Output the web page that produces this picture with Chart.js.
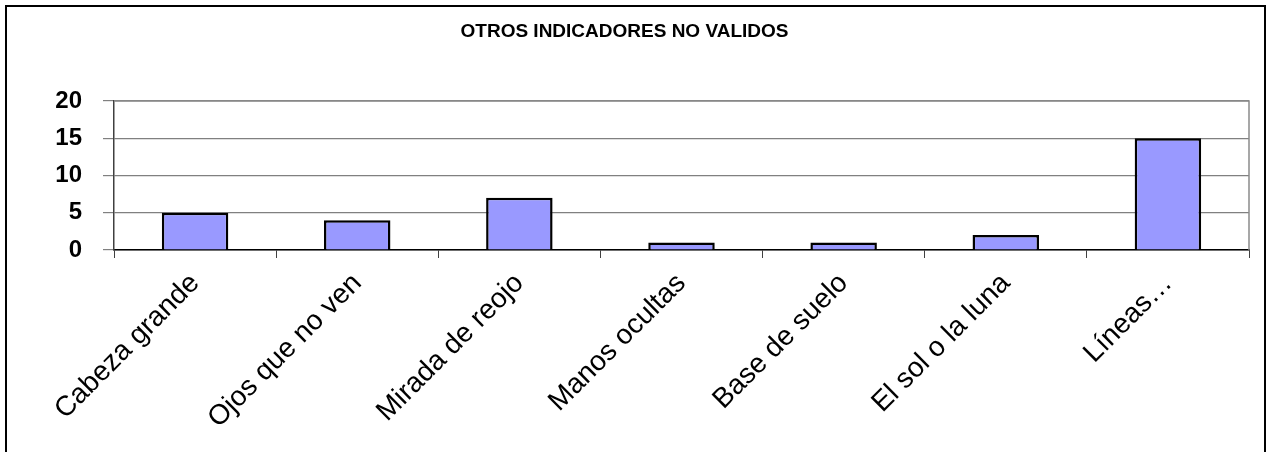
<!DOCTYPE html>
<html>
<head>
<meta charset="utf-8">
<script src="https://cdn.jsdelivr.net/npm/chart.js@4"></script>
<style>
  html, body { margin: 0; padding: 0; background: #fff; overflow: hidden; }
  #frame { position: absolute; left: 5px; top: 5px; width: 1257px; height: 470px; border: 2px solid #000; }
  #wrap { position: absolute; left: 0; top: 0; width: 1267px; height: 452px; }
</style>
</head>
<body>
<div id="frame"></div>
<div id="wrap"><canvas id="otros"></canvas></div>
<script>
// Data

const categories = [
  'Cabeza grande',
  'Ojos que no ven',
  'Mirada de reojo',
  'Manos ocultas',
  'Base de suelo',
  'El sol o la luna',
  'Líneas…'
];
const counts = [5, 4, 7, 1, 1, 2, 15];
const yTicks = [0, 5, 10, 15, 20];

// Gray frame on the right side of the plot area

const plotFrame = {
  id: 'plotFrame',
  afterDraw(chart) {
    const a = chart.chartArea;
    const c = chart.ctx;
    c.save();
    c.strokeStyle = '#8a8a8a';
    c.lineWidth = 1.5;
    c.beginPath();
    c.moveTo(a.left, a.top);
    c.lineTo(a.right, a.top);
    c.lineTo(a.right, a.bottom);
    c.stroke();
    c.restore();
  }
};

// Chart

const ctx = document.getElementById('otros');
const otros = new Chart(ctx, {
  type: 'bar',
  data: {
    labels: categories,
    datasets: [{
      data: counts,
      backgroundColor: '#9999ff',
      borderColor: '#000',
      borderWidth: 2.5,
      categoryPercentage: 1,
      barPercentage: 0.41
    }]
  },
  options: {
    responsive: true,
    maintainAspectRatio: false,
    animation: false,
    layout: {
      padding: { top: 0, right: 18, bottom: 0, left: 0 }
    },
    scales: {
      x: {
        grid: {
          drawOnChartArea: false,
          tickLength: 8,
          color: '#404040',
          offset: true
        },
        border: { color: '#000', width: 1.5 },
        ticks: {
          autoSkip: false,
          minRotation: 45,
          maxRotation: 45,
          padding: 9,
          color: '#000',
          font: { family: 'Liberation Sans', size: 28 }
        },
        afterFit(scale) {
          scale.height = 202;
        }
      },
      y: {
        min: 0,
        max: 20,
        grid: {
          color: '#808080',
          lineWidth: 1.2,
          tickLength: 11
        },
        border: { color: '#404040', width: 1.5 },
        ticks: {
          padding: 21,
          color: '#000',
          font: { family: 'Liberation Sans', size: 24, weight: 'bold' }
        },
        afterBuildTicks(scale) {
          scale.ticks = yTicks.map(v => ({ value: v }));
        },
        afterFit(scale) {
          scale.width = 114;
        }
      }
    },
    plugins: {
      legend: {
        display: false
      },
      tooltip: {
        enabled: false
      },
      title: {
        display: true,
        text: 'OTROS INDICADORES NO VALIDOS',
        color: '#000',
        font: { family: 'Liberation Sans', size: 19, weight: 'bold', lineHeight: 1.2 },
        padding: { top: 20, bottom: 58.2 }
      }
    }
  },
  plugins: [plotFrame]
});
</script>
</body>
</html>
